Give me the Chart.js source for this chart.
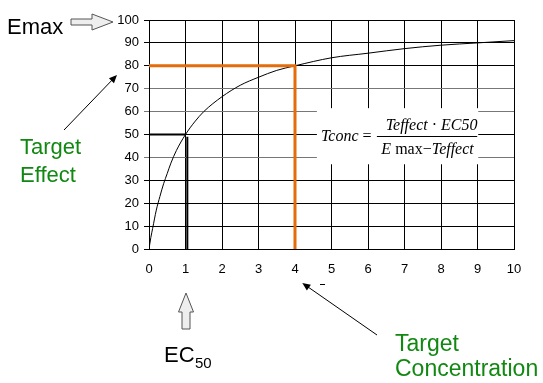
<!DOCTYPE html>
<html>
<head>
<meta charset="utf-8">
<script src="https://cdn.jsdelivr.net/npm/chart.js@4"></script>
<style>
  body { margin: 0; background: #fff; }
  canvas { display: block; }
</style>
</head>
<body>
<canvas id="emax-chart" width="543" height="383"></canvas>
<script>
"use strict";

// Data.
const concentration = [0, 0.05, 0.1, 0.2, 0.3, 0.4, 0.5, 0.6, 0.75, 1, 1.25, 1.5, 2, 2.5, 3, 3.5, 4, 5, 6, 7, 8, 9, 10];
const effect = [0, 5, 9, 17, 23, 28.5, 33, 37.5, 43, 50, 55.5, 60, 66.5, 71.5, 75, 78, 80, 83.5, 85.5, 87.5, 89, 90, 91];

// Guide lines (x, y pairs).
const targetLineX = [0, 4, 4];
const targetLineY = [80, 80, 0];
const ec50LineX = [0, 1];
const ec50LineY = [50, 50];
const ec50DropX = [1.05, 1.05];
const ec50DropY = [49, 0];

const xTicks = [0, 1, 2, 3, 4, 5, 6, 7, 8, 9, 10];
const yTicks = [0, 10, 20, 30, 40, 50, 60, 70, 80, 90, 100];

const GREEN = "#118811";
const ORANGE = "#E46C0A";
const SANS = "'Liberation Sans', Arial, sans-serif";
const SERIF = "'Liberation Serif', 'Times New Roman', serif";

const toPoints = (xs, ys) => xs.map((x, i) => ({ x: x, y: ys[i] }));

// Simple block arrow (outlined, light fill).
const blockArrow = (c, pts) => {
  c.beginPath();
  c.moveTo(pts[0][0], pts[0][1]);
  for (let i = 1; i < pts.length; i++) c.lineTo(pts[i][0], pts[i][1]);
  c.closePath();
  c.fillStyle = "#eeeeee";
  c.fill();
  c.strokeStyle = "#555";
  c.lineWidth = 1;
  c.stroke();
};

// Thin line with a small filled head.
const thinArrow = (c, x0, y0, x1, y1) => {
  const a = Math.atan2(y1 - y0, x1 - x0);
  c.strokeStyle = "#000";
  c.fillStyle = "#000";
  c.lineWidth = 1;
  c.beginPath();
  c.moveTo(x0, y0);
  c.lineTo(x1 - 5 * Math.cos(a), y1 - 5 * Math.sin(a));
  c.stroke();
  c.beginPath();
  c.moveTo(x1, y1);
  c.lineTo(x1 - 8 * Math.cos(a) + 3.5 * Math.sin(a), y1 - 8 * Math.sin(a) - 3.5 * Math.cos(a));
  c.lineTo(x1 - 8 * Math.cos(a) - 3.5 * Math.sin(a), y1 - 8 * Math.sin(a) + 3.5 * Math.cos(a));
  c.closePath();
  c.fill();
};

// Draws runs of text pieces with their own fonts, left to right.
const drawRuns = (c, runs, x, y, align) => {
  let w = 0;
  runs.forEach((r) => { c.font = r.font; w += c.measureText(r.text).width; });
  let cx = align === "center" ? x - w / 2 : x;
  c.textAlign = "left";
  runs.forEach((r) => {
    c.font = r.font;
    c.fillText(r.text, cx, y);
    cx += c.measureText(r.text).width;
  });
  return w;
};

const annotations = {
  id: "annotations",
  afterDatasetsDraw(chart) {
    const c = chart.ctx;
    const xs = chart.scales.x;
    const ys = chart.scales.y;
    c.save();

    // Equation box.
    const bx0 = xs.getPixelForValue(4.6);
    const bx1 = xs.getPixelForValue(9.02);
    const by0 = ys.getPixelForValue(61.5);
    const by1 = ys.getPixelForValue(37);
    c.fillStyle = "#fff";
    c.fillRect(bx0, by0, bx1 - bx0, by1 - by0);

    const it = "italic 16px " + SERIF;
    const up = "16px " + SERIF;
    const midY = (by0 + by1) / 2;
    c.fillStyle = "#000";
    c.textBaseline = "alphabetic";
    drawRuns(c, [{ text: "Tconc", font: it }, { text: " =", font: up }], bx0 + 4, midY + 5, "left");
    const fracX = bx0 + 60;
    const fracW = bx1 - fracX;
    drawRuns(c, [{ text: "Teffect", font: it }, { text: " \u00B7 ", font: up }, { text: "EC50", font: it }],
      fracX + fracW / 2 + 4, midY - 6, "center");
    drawRuns(c, [{ text: "E", font: it }, { text: " max\u2212", font: up }, { text: "Teffect", font: it }],
      fracX + fracW / 2, midY + 18, "center");
    c.strokeStyle = "#000";
    c.lineWidth = 1;
    c.beginPath();
    c.moveTo(fracX, Math.round(midY) + 0.5);
    c.lineTo(bx1 - 1, Math.round(midY) + 0.5);
    c.stroke();

    // Emax label and arrow pointing at 100.
    const y100 = ys.getPixelForValue(100) + 2;
    c.font = "22px " + SANS;
    c.fillStyle = "#000";
    c.fillText("Emax", 7, 34);
    blockArrow(c, [[71, y100 - 3], [92, y100 - 3], [92, y100 - 8], [113, y100], [92, y100 + 8], [92, y100 + 3], [71, y100 + 3]]);

    // Target Effect.
    c.font = "22px " + SANS;
    c.fillStyle = GREEN;
    c.fillText("Target", 20, 154);
    c.fillText("Effect", 20, 182);
    thinArrow(c, 64, 130, 117, ys.getPixelForValue(76));

    // EC50 arrow under x = 1.
    const x1 = Math.round(xs.getPixelForValue(1));
    blockArrow(c, [[x1, 293], [x1 + 7.5, 312], [x1 + 4, 312], [x1 + 4, 329], [x1 - 4, 329], [x1 - 4, 312], [x1 - 7.5, 312]]);
    c.fillStyle = "#000";
    c.font = "22px " + SANS;
    c.fillText("EC", 164, 362);
    c.font = "15px " + SANS;
    c.fillText("50", 195, 368);

    // Target Concentration.
    c.font = "23px " + SANS;
    c.fillStyle = GREEN;
    c.fillText("Target", 395, 351);
    c.fillText("Concentration", 395, 376);
    thinArrow(c, 377, 335, xs.getPixelForValue(4.2), 283);

    // stray dash below the axis
    c.strokeStyle = "#000";
    c.beginPath();
    c.moveTo(320, 284.5);
    c.lineTo(325, 284.5);
    c.stroke();

    c.restore();
  },
};

const ctx = document.getElementById("emax-chart");

const emaxChart = new Chart(ctx, {
  type: "scatter",
  data: {
    datasets: [
      {
        label: "target",
        data: toPoints(targetLineX, targetLineY),
        showLine: true,
        borderColor: ORANGE,
        borderWidth: 3,
        pointRadius: 0,
      },
      {
        label: "ec50",
        data: toPoints(ec50LineX, ec50LineY),
        showLine: true,
        borderColor: "#000",
        borderWidth: 2,
        pointRadius: 0,
      },
      {
        label: "ec50 drop",
        data: toPoints(ec50DropX, ec50DropY),
        showLine: true,
        borderColor: "#000",
        borderWidth: 2,
        pointRadius: 0,
      },
      {
        label: "effect",
        data: toPoints(concentration, effect),
        showLine: true,
        borderColor: "#000",
        borderWidth: 1,
        pointRadius: 0,
        cubicInterpolationMode: "monotone",
      },
    ],
  },
  options: {
    responsive: false,
    animation: false,
    layout: { padding: { top: 20, right: 29, left: 0, bottom: 0 } },
    plugins: { legend: { display: false }, tooltip: { enabled: false } },
    scales: {
      x: {
        type: "linear",
        min: 0,
        max: 10,
        afterBuildTicks: (s) => { s.ticks = xTicks.map((v) => ({ value: v })); },
        afterFit: (s) => { s.height = 134; },
        ticks: {
          color: "#000",
          padding: 13,
          font: { family: SANS, size: 13 },
        },
        grid: { color: "#000", drawTicks: false },
        border: { color: "#000", width: 1 },
      },
      y: {
        min: 0,
        max: 100,
        afterBuildTicks: (s) => { s.ticks = yTicks.map((v) => ({ value: v })); },
        afterFit: (s) => { s.width = 149; },
        ticks: {
          color: "#000",
          padding: 5,
          font: { family: SANS, size: 13 },
        },
        grid: {
          color: (c) => (c.tick && [40, 60, 70].includes(c.tick.value) ? "#777" : "#000"),
          tickLength: 5,
        },
        border: { color: "#000", width: 1 },
      },
    },
  },
  plugins: [annotations],
});
</script>
</body>
</html>
